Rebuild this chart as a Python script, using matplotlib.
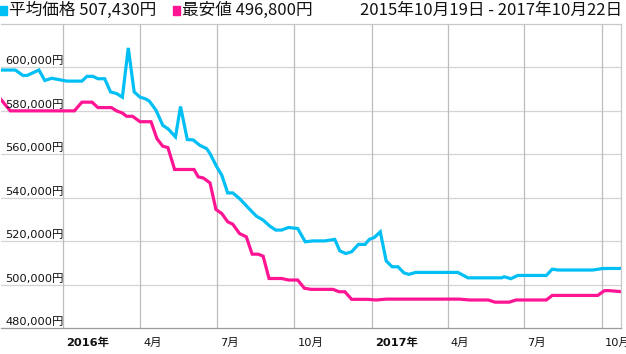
import matplotlib
matplotlib.use('Agg')
import matplotlib.pyplot as plt
import matplotlib.transforms as mtransforms
from matplotlib.patches import Rectangle
import pandas as pd

plt.rcParams['font.family'] = ['DejaVu Sans', 'Noto Sans CJK JP']

# 平均価格
avg_dates = ['2015-10-19', '2015-11-05', '2015-11-14', '2015-11-19', '2015-12-03', '2015-12-10',
             '2015-12-18', '2015-12-28', '2016-01-05', '2016-01-23', '2016-01-29', '2016-02-05',
             '2016-02-11', '2016-02-19', '2016-02-26', '2016-03-04', '2016-03-11', '2016-03-18',
             '2016-03-25', '2016-04-01', '2016-04-07', '2016-04-12', '2016-04-20', '2016-04-28',
             '2016-05-04', '2016-05-13', '2016-05-19', '2016-05-27', '2016-06-03', '2016-06-11',
             '2016-06-19', '2016-06-23', '2016-07-01', '2016-07-07', '2016-07-14', '2016-07-20',
             '2016-07-28', '2016-08-07', '2016-08-17', '2016-08-25', '2016-09-02', '2016-09-09',
             '2016-09-16', '2016-09-24', '2016-10-05', '2016-10-14', '2016-10-23', '2016-11-06',
             '2016-11-18', '2016-11-24', '2016-12-01', '2016-12-08', '2016-12-16', '2016-12-24',
             '2016-12-29', '2017-01-04', '2017-01-11', '2017-01-18', '2017-01-25', '2017-02-01',
             '2017-02-08', '2017-02-14', '2017-02-22', '2017-04-13', '2017-04-25', '2017-06-04',
             '2017-06-07', '2017-06-15', '2017-06-23', '2017-07-27', '2017-08-03', '2017-08-10',
             '2017-09-20', '2017-10-02', '2017-10-22']
avg_prices = [598800, 598800, 596300, 596300, 598800, 594000,
              595000, 594300, 593700, 593700, 595900, 595900,
              594800, 594800, 588700, 588000, 586300, 609000,
              588700, 586300, 585600, 584500, 580200, 573300,
              571800, 568000, 582000, 566800, 566600, 564100,
              562600, 560300, 554200, 550300, 542200, 542200,
              539600, 535500, 531500, 529700, 526900, 525100,
              525100, 526300, 525800, 519700, 520100, 520100,
              520800, 515500, 514300, 515100, 518500, 518500,
              520800, 521700, 524300, 510900, 508200, 508200,
              505400, 504700, 505600, 505600, 503100, 503100,
              503600, 502700, 504200, 504200, 507100, 506700,
              506700, 507400, 507430]

# 最安値
min_dates = ['2015-10-19', '2015-10-30', '2016-01-14', '2016-01-23', '2016-02-04', '2016-02-11',
             '2016-02-27', '2016-03-04', '2016-03-11', '2016-03-16', '2016-03-23', '2016-04-01',
             '2016-04-14', '2016-04-21', '2016-04-28', '2016-05-04', '2016-05-12', '2016-06-04',
             '2016-06-09', '2016-06-15', '2016-06-23', '2016-06-30', '2016-07-07', '2016-07-14',
             '2016-07-20', '2016-07-28', '2016-08-05', '2016-08-12', '2016-08-19', '2016-08-25',
             '2016-09-01', '2016-09-16', '2016-09-24', '2016-10-05', '2016-10-13', '2016-10-21',
             '2016-11-16', '2016-11-23', '2016-11-30', '2016-12-08', '2016-12-27', '2017-01-06',
             '2017-01-18', '2017-04-15', '2017-04-27', '2017-05-19', '2017-05-27', '2017-06-13',
             '2017-06-21', '2017-07-27', '2017-08-03', '2017-09-26', '2017-10-04', '2017-10-10',
             '2017-10-22']
min_prices = [585200, 580000, 580000, 584000, 584000, 581500,
              581500, 580000, 579000, 577500, 577500, 575000,
              575000, 567200, 563700, 563100, 553000, 553000,
              549600, 549100, 546800, 534600, 532700, 528900,
              527800, 523500, 522000, 514000, 514000, 513100,
              502800, 502800, 502100, 502100, 498300, 497800,
              497800, 496700, 496700, 493200, 493200, 492900,
              493300, 493300, 492900, 492900, 491900, 491900,
              492900, 492900, 495000, 495000, 497200, 497200,
              496800]

y_ticks = [480000, 500000, 520000, 540000, 560000, 580000, 600000]
x_ticks = ['2016-01-01', '2016-04-01', '2016-07-01', '2016-10-01',
           '2017-01-01', '2017-04-01', '2017-07-01', '2017-10-01']
x_labels = ['2016年', '4月', '7月', '10月', '2017年', '4月', '7月', '10月']

avg_color = '#00bff5'
min_color = '#ff1493'

fig = plt.figure(figsize=(6.26, 3.54), dpi=100)
ax = fig.add_axes([1/626, 26/354, 619.5/626, 304/354])

ax.plot(pd.to_datetime(avg_dates), avg_prices, color=avg_color, lw=2.3, solid_joinstyle='miter')
ax.plot(pd.to_datetime(min_dates), min_prices, color=min_color, lw=2.3, solid_joinstyle='miter')

ax.set_xlim(pd.Timestamp('2015-10-19'), pd.Timestamp('2017-10-23'))
ax.set_ylim(480000, 620000)

for v in y_ticks[1:]:
    ax.axhline(v, color='#d4d4d4', lw=0.9, zorder=0)
for d in x_ticks:
    ax.axvline(pd.Timestamp(d), color='#bdbdbd', lw=0.9, zorder=0)

ax.spines['left'].set_visible(False)
ax.spines['top'].set_color('#c8c8c8')
ax.spines['right'].set_color('#c8c8c8')
ax.spines['bottom'].set_color('#9a9a9a')
for s in ['top', 'right', 'bottom']:
    ax.spines[s].set_linewidth(0.9)
ax.set_xticks([])
ax.set_yticks([])

# y labels inside the plot
ytrans = mtransforms.offset_copy(ax.get_yaxis_transform(), fig=fig, x=4, y=1, units='dots')
for v in y_ticks:
    ax.text(0, v, f'{v:,}円', transform=ytrans, fontsize=8.2, ha='left', va='bottom',
            color='#111111', zorder=5)

# x labels below the plot
xtrans = mtransforms.offset_copy(ax.get_xaxis_transform(), fig=fig, x=3, y=-14.5, units='dots')
for d, lab in zip(x_ticks, x_labels):
    ax.text(pd.Timestamp(d), 0, lab, transform=xtrans, fontsize=8.2, ha='left', va='center',
            fontweight='bold' if '年' in lab else 'normal', color='#111111', clip_on=False)

# header
head_font = ['Noto Sans CJK JP', 'DejaVu Sans']
fig.patches.append(Rectangle((0, 1 - 15/354), 7/626, 9/354, transform=fig.transFigure,
                             color=avg_color, zorder=3))
fig.text(9/626, 1 - 10/354, '平均価格 507,430円', family=head_font, fontsize=12,
         ha='left', va='center', color='#111111')
fig.patches.append(Rectangle((173/626, 1 - 15/354), 7/626, 9/354, transform=fig.transFigure,
                             color=min_color, zorder=3))
fig.text(182/626, 1 - 10/354, '最安値 496,800円', family=head_font, fontsize=12,
         ha='left', va='center', color='#111111')
fig.text(622/626, 1 - 10/354, '2015年10月19日 - 2017年10月22日', family=head_font, fontsize=12,
         ha='right', va='center', color='#111111')

fig.savefig('out.png', dpi=100)
